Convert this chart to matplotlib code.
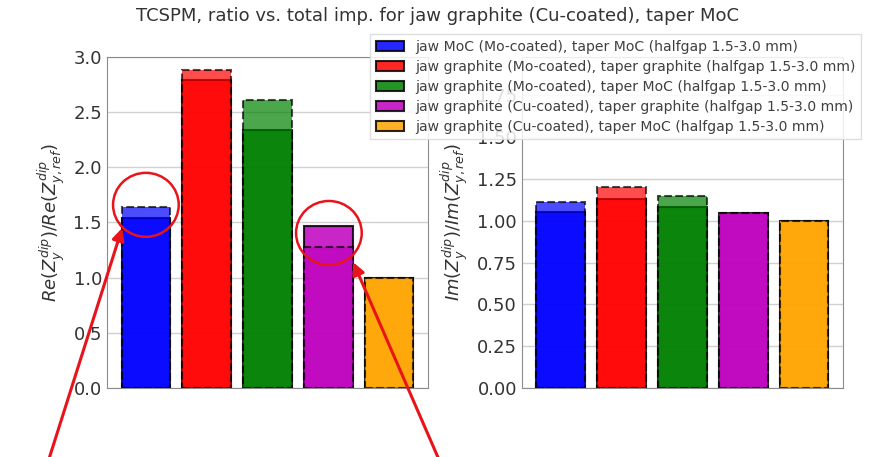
import numpy as np
import matplotlib.pyplot as plt
from matplotlib.patches import Ellipse

labels = ["jaw MoC (Mo-coated), taper MoC (halfgap 1.5-3.0 mm)",
          "jaw graphite (Mo-coated), taper graphite (halfgap 1.5-3.0 mm)",
          "jaw graphite (Mo-coated), taper MoC (halfgap 1.5-3.0 mm)",
          "jaw graphite (Cu-coated), taper graphite (halfgap 1.5-3.0 mm)",
          "jaw graphite (Cu-coated), taper MoC (halfgap 1.5-3.0 mm)"]
colors = ["blue", "red", "green", "m", "orange"]

# real part ratio: solid bar and dashed (total) bar
re_solid = [1.54, 2.79, 2.34, 1.47, 1.0]
re_dashed = [1.64, 2.88, 2.61, 1.28, 1.0]
# imaginary part ratio
im_solid = [1.05, 1.13, 1.08, 1.045, 1.0]
im_dashed = [1.11, 1.20, 1.15, 1.045, 1.0]

fig = plt.figure(figsize=(8.74, 4.57), dpi=100)
ax1 = fig.add_axes([0.1224, 0.151, 0.3673, 0.7243])
ax2 = fig.add_axes([0.597, 0.151, 0.3675, 0.7243])

x = np.arange(len(labels))
handles = []
for ax, solid, dashed in [(ax1, re_solid, re_dashed), (ax2, im_solid, im_dashed)]:
    for i in range(len(labels)):
        h = ax.bar(x[i], solid[i], width=0.8, color=colors[i], alpha=0.85,
                   edgecolor="black", linewidth=1.5, label=labels[i])
        ax.bar(x[i], dashed[i], width=0.8, color=colors[i], alpha=0.7,
               edgecolor="black", linewidth=1.5, linestyle="--")
        if ax is ax1:
            handles.append(h)
    ax.set_xticks([])
    ax.grid(True, axis="y", color="0.82", linewidth=1)
    ax.set_axisbelow(True)
    for s in ax.spines.values():
        s.set_color("0.55")
    ax.tick_params(axis="y", labelsize=13, length=0, colors="0.2")

ax1.set_ylim(0, 3.0)
ax1.set_yticks(np.arange(0, 3.01, 0.5))
ax2.set_ylim(0, 1.98)
ax2.set_yticks(np.arange(0, 1.76, 0.25))

ax1.set_ylabel(r"$Re(Z_y^{dip})/Re(Z_{y,ref}^{dip})$", fontsize=13, color="0.2")
ax2.set_ylabel(r"$Im(Z_y^{dip})/Im(Z_{y,ref}^{dip})$", fontsize=13, color="0.2")

fig.suptitle("TCSPM, ratio vs. total imp. for jaw graphite (Cu-coated), taper MoC",
             fontsize=13, y=0.985, color="0.2")

leg = fig.legend(handles=handles, loc="upper right", bbox_to_anchor=(0.993, 0.94),
                 fontsize=10.1, labelspacing=0.42, handlelength=2.0, framealpha=0.85,
                 edgecolor="0.85", fancybox=False)
for t in leg.get_texts():
    t.set_color("0.25")

# red highlight circles and arrows
for cx, cy in [(0.0, 1.66), (3.01, 1.405)]:
    ax1.add_patch(Ellipse((cx, cy), 1.08, 0.58, fill=False, edgecolor="#e8141c",
                          linewidth=1.8, clip_on=False, zorder=5))
ax1.annotate("", xy=(-0.39, 1.45), xycoords="data", xytext=(48, -5),
             textcoords="figure pixels",
             arrowprops=dict(arrowstyle="-|>", color="#e8141c", lw=2.2,
                             mutation_scale=18, shrinkA=0, shrinkB=0),
             annotation_clip=False, zorder=6)
ax1.annotate("", xy=(3.41, 1.14), xycoords="data", xytext=(440, -5),
             textcoords="figure pixels",
             arrowprops=dict(arrowstyle="-|>", color="#e8141c", lw=2.2,
                             mutation_scale=18, shrinkA=0, shrinkB=0),
             annotation_clip=False, zorder=6)

fig.savefig("out.png", dpi=100)
